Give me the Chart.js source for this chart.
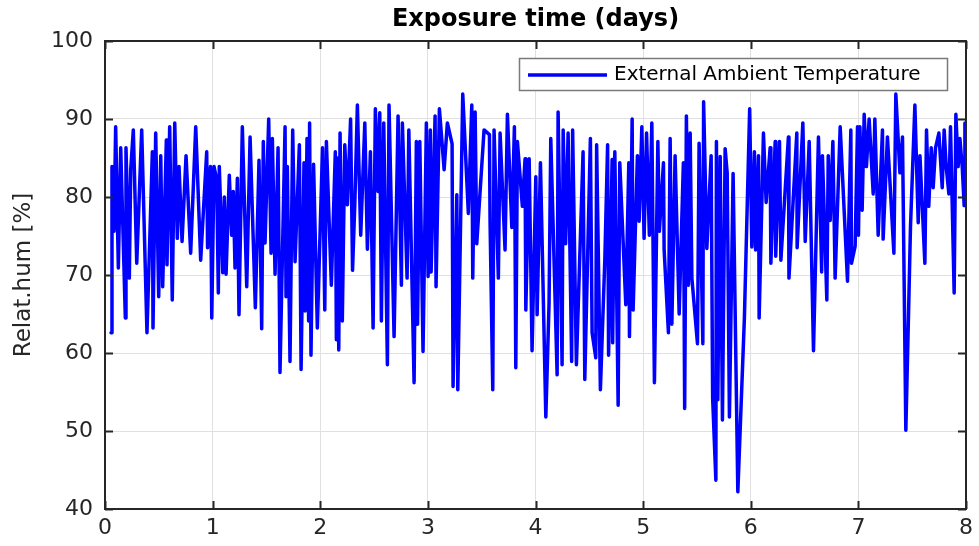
<!DOCTYPE html>
<html>
<head>
<meta charset="utf-8">
<script src="https://cdn.jsdelivr.net/npm/chart.js@4/dist/chart.umd.min.js"></script>
<style>
  html, body { margin: 0; padding: 0; background: #fff; }
  canvas { display: block; }
</style>
</head>
<body>
<canvas id="c" width="979" height="546"></canvas>
<script>
// exposure time in days (x) and relative humidity in % (y)
const days = [
  0.056, 0.065, 0.084, 0.099, 0.124, 0.146, 0.189, 0.195, 0.226, 0.239,
  0.263, 0.295, 0.341, 0.390, 0.440, 0.446, 0.471, 0.499, 0.518, 0.536,
  0.570, 0.576, 0.601, 0.625, 0.648, 0.672, 0.688, 0.716, 0.753, 0.796,
  0.843, 0.889, 0.945, 0.953, 0.980, 0.992, 1.013, 1.038, 1.053, 1.062,
  1.094, 1.109, 1.125, 1.155, 1.177, 1.192, 1.208, 1.230, 1.245, 1.276,
  1.317, 1.348, 1.397, 1.431, 1.456, 1.471, 1.487, 1.521, 1.543, 1.555,
  1.580, 1.608, 1.626, 1.673, 1.682, 1.694, 1.719, 1.744, 1.766, 1.806,
  1.822, 1.849, 1.859, 1.877, 1.892, 1.901, 1.914, 1.938, 1.973, 2.021,
  2.042, 2.057, 2.103, 2.140, 2.150, 2.161, 2.172, 2.184, 2.205, 2.228,
  2.252, 2.282, 2.300, 2.321, 2.345, 2.376, 2.414, 2.438, 2.466, 2.491,
  2.512, 2.537, 2.553, 2.568, 2.590, 2.624, 2.639, 2.686, 2.723, 2.754,
  2.763, 2.807, 2.823, 2.872, 2.893, 2.904, 2.925, 2.955, 2.986, 3.002,
  3.023, 3.030, 3.067, 3.076, 3.107, 3.151, 3.181, 3.225, 3.234, 3.269,
  3.278, 3.324, 3.376, 3.408, 3.417, 3.439, 3.454, 3.522, 3.572, 3.578,
  3.603, 3.615, 3.655, 3.671, 3.717, 3.739, 3.780, 3.804, 3.817, 3.832,
  3.878, 3.903, 3.910, 3.941, 3.968, 4.003, 4.015, 4.046, 4.096, 4.126,
  4.142, 4.201, 4.210, 4.247, 4.257, 4.280, 4.303, 4.336, 4.345, 4.380,
  4.442, 4.458, 4.510, 4.526, 4.560, 4.568, 4.603, 4.644, 4.670, 4.679,
  4.712, 4.717, 4.737, 4.768, 4.783, 4.839, 4.867, 4.873, 4.898, 4.907,
  4.947, 4.963, 4.988, 5.009, 5.032, 5.058, 5.081, 5.105, 5.137, 5.151,
  5.189, 5.195, 5.235, 5.251, 5.267, 5.297, 5.335, 5.374, 5.386, 5.402,
  5.421, 5.437, 5.453, 5.505, 5.520, 5.555, 5.562, 5.592, 5.632, 5.646,
  5.676, 5.681, 5.694, 5.716, 5.737, 5.762, 5.781, 5.802, 5.836, 5.880,
  5.941, 5.990, 6.010, 6.034, 6.045, 6.072, 6.078, 6.118, 6.143, 6.180,
  6.187, 6.227, 6.232, 6.267, 6.280, 6.350, 6.355, 6.428, 6.431, 6.484,
  6.506, 6.543, 6.583, 6.629, 6.659, 6.666, 6.707, 6.720, 6.738, 6.763,
  6.784, 6.831, 6.899, 6.930, 6.936, 6.970, 6.992, 7.001, 7.014, 7.035,
  7.054, 7.075, 7.100, 7.138, 7.153, 7.184, 7.224, 7.230, 7.270, 7.330,
  7.348, 7.386, 7.410, 7.441, 7.469, 7.484, 7.525, 7.556, 7.572, 7.618,
  7.633, 7.654, 7.677, 7.695, 7.717, 7.748, 7.779, 7.797, 7.816, 7.841,
  7.856, 7.890, 7.906, 7.927, 7.943, 7.965, 7.983, 7.990
];
const relHum = [
  62.6, 83.9, 75.6, 89.0, 70.9, 86.3, 64.5, 86.3, 69.6, 83.5,
  88.6, 71.5, 88.6, 62.6, 85.8, 63.2, 88.2, 67.2, 85.3, 68.5,
  87.3, 71.3, 89.0, 66.8, 89.5, 74.7, 83.9, 74.3, 85.3, 72.8,
  89.0, 71.9, 85.8, 73.5, 83.9, 64.5, 83.9, 82.2, 67.7, 83.9,
  70.3, 80.0, 70.1, 82.8, 75.1, 80.7, 70.9, 82.4, 64.9, 89.0,
  68.5, 87.7, 65.8, 84.7, 63.1, 87.1, 74.1, 90.0, 72.8, 87.5,
  70.1, 86.3, 57.5, 89.0, 67.2, 83.9, 58.9, 88.6, 71.7, 86.7,
  57.9, 84.4, 65.4, 87.5, 64.1, 89.5, 59.7, 84.2, 63.2, 86.3,
  65.5, 87.1, 68.7, 85.8, 61.7, 85.0, 60.4, 88.2, 64.1, 86.7,
  79.0, 90.0, 70.6, 79.0, 91.8, 75.1, 89.5, 73.3, 85.8, 63.2,
  91.3, 80.7, 90.8, 64.1, 89.5, 58.5, 91.8, 62.1, 90.4, 68.7,
  89.5, 69.6, 88.6, 56.2, 87.1, 63.7, 87.1, 60.2, 89.5, 69.8,
  88.6, 70.4, 90.4, 68.5, 91.3, 83.5, 89.5, 86.8, 55.7, 80.3,
  55.3, 93.2, 77.9, 91.8, 69.6, 90.9, 74.0, 88.6, 88.0, 76.7,
  55.3, 88.6, 69.6, 88.2, 73.2, 90.6, 76.1, 89.0, 58.1, 87.1,
  78.8, 84.9, 65.5, 84.9, 60.3, 82.6, 64.9, 84.4, 51.8, 66.4,
  87.5, 57.2, 90.9, 58.5, 88.6, 74.0, 88.2, 58.9, 88.6, 58.5,
  85.8, 56.6, 87.5, 62.6, 59.4, 86.7, 55.3, 71.9, 86.7, 59.7,
  84.8, 61.3, 85.8, 53.3, 84.4, 66.2, 84.4, 62.1, 90.0, 65.5,
  85.3, 76.9, 89.0, 74.7, 88.2, 75.1, 89.5, 56.2, 87.1, 75.6,
  84.4, 73.3, 62.6, 87.5, 63.7, 85.3, 65.0, 84.4, 52.9, 90.4,
  68.7, 88.2, 69.6, 61.2, 86.9, 61.2, 92.2, 73.4, 85.3, 54.2,
  43.7, 87.1, 54.0, 85.2, 51.4, 86.2, 83.1, 51.8, 83.0, 42.2,
  64.5, 91.3, 73.6, 85.8, 73.2, 85.3, 64.5, 88.2, 79.3, 86.3,
  71.5, 87.1, 72.4, 87.1, 71.9, 87.7, 69.6, 88.2, 73.5, 89.5,
  74.3, 87.1, 60.3, 87.7, 70.4, 85.3, 66.8, 85.3, 77.0, 87.1,
  69.6, 89.0, 69.2, 88.6, 71.5, 73.7, 89.0, 75.1, 89.0, 78.3,
  90.6, 83.9, 90.0, 80.4, 90.0, 75.1, 88.6, 74.6, 87.7, 72.8,
  93.2, 83.1, 87.7, 50.1, 66.8, 76.1, 91.8, 76.7, 85.3, 71.5,
  88.6, 78.8, 86.3, 81.2, 86.3, 88.2, 81.2, 88.6, 83.9, 80.4,
  89.0, 67.7, 90.6, 83.9, 87.5, 83.9, 78.9, 89.5
];
const xTicks = [0, 1, 2, 3, 4, 5, 6, 7, 8];
const yTicks = [40, 50, 60, 70, 80, 90, 100];

const points = days.map((d, i) => ({ x: d, y: relHum[i] }));
const textColor = '#262626';
const fontFam = '"DejaVu Sans", sans-serif';

// matlab style box, inward ticks, title and boxed legend
const matlabFrame = {
  id: 'matlabFrame',
  afterDraw(chart) {
    const ctx = chart.ctx, a = chart.chartArea;
    const xs = chart.scales.x, ys = chart.scales.y;
    ctx.save();
    ctx.strokeStyle = textColor;
    ctx.lineWidth = 2;
    ctx.strokeRect(a.left, a.top, a.right - a.left, a.bottom - a.top);
    ctx.beginPath();
    xTicks.forEach(t => {
      const px = Math.round(xs.getPixelForValue(t)) + 0.5;
      ctx.moveTo(px, a.bottom); ctx.lineTo(px, a.bottom - 8);
      ctx.moveTo(px, a.top); ctx.lineTo(px, a.top + 8);
    });
    yTicks.forEach(t => {
      const py = Math.round(ys.getPixelForValue(t)) + 0.5;
      ctx.moveTo(a.left, py); ctx.lineTo(a.left + 8, py);
      ctx.moveTo(a.right, py); ctx.lineTo(a.right - 8, py);
    });
    ctx.stroke();

    // title
    ctx.fillStyle = '#000';
    ctx.font = 'bold 24px ' + fontFam;
    ctx.textAlign = 'center';
    ctx.textBaseline = 'middle';
    ctx.fillText('Exposure time (days)', (a.left + a.right) / 2, 20);

    // legend
    ctx.fillStyle = '#fff';
    ctx.fillRect(519, 58, 428, 32);
    ctx.strokeStyle = '#7a7a7a';
    ctx.lineWidth = 1.5;
    ctx.strokeRect(519.5, 58.5, 428, 32);
    ctx.strokeStyle = '#0000ff';
    ctx.lineWidth = 3.5;
    ctx.beginPath();
    ctx.moveTo(528, 75); ctx.lineTo(607, 75);
    ctx.stroke();
    ctx.fillStyle = '#000';
    ctx.font = '20px ' + fontFam;
    ctx.textAlign = 'left';
    ctx.fillText('External Ambient Temperature', 614, 75);
    ctx.restore();
  }
};

new Chart(document.getElementById('c'), {
  type: 'line',
  data: {
    datasets: [{
      label: 'External Ambient Temperature',
      data: points,
      borderColor: '#0000ff',
      backgroundColor: '#0000ff',
      borderWidth: 3.5,
      borderJoinStyle: 'round',
      borderCapStyle: 'round',
      pointRadius: 0,
      tension: 0,
      fill: false
    }]
  },
  options: {
    responsive: false,
    animation: false,
    devicePixelRatio: 1,
    layout: { padding: { left: 0, right: 13, top: 41, bottom: 0 } },
    plugins: { legend: { display: false }, title: { display: false }, tooltip: { enabled: false } },
    scales: {
      x: {
        type: 'linear', min: 0, max: 8,
        afterFit: s => { s.height = 37; },
        afterBuildTicks: s => { s.ticks = xTicks.map(v => ({ value: v })); },
        ticks: { color: textColor, font: { family: fontFam, size: 22 }, padding: 6, maxRotation: 0 },
        grid: { color: '#e0e0e0', lineWidth: 1, drawTicks: false },
        border: { display: false }
      },
      y: {
        min: 40, max: 100,
        afterFit: s => { s.width = 105; },
        afterBuildTicks: s => { s.ticks = yTicks.map(v => ({ value: v })); },
        ticks: { color: textColor, font: { family: fontFam, size: 22 }, padding: 12 },
        grid: { color: '#e0e0e0', lineWidth: 1, drawTicks: false },
        border: { display: false },
        title: {
          display: true, text: 'Relat.hum [%]', color: textColor,
          font: { family: fontFam, size: 23 }, padding: { top: 10, bottom: 0 }
        }
      }
    }
  },
  plugins: [matlabFrame]
});
</script>
</body>
</html>
